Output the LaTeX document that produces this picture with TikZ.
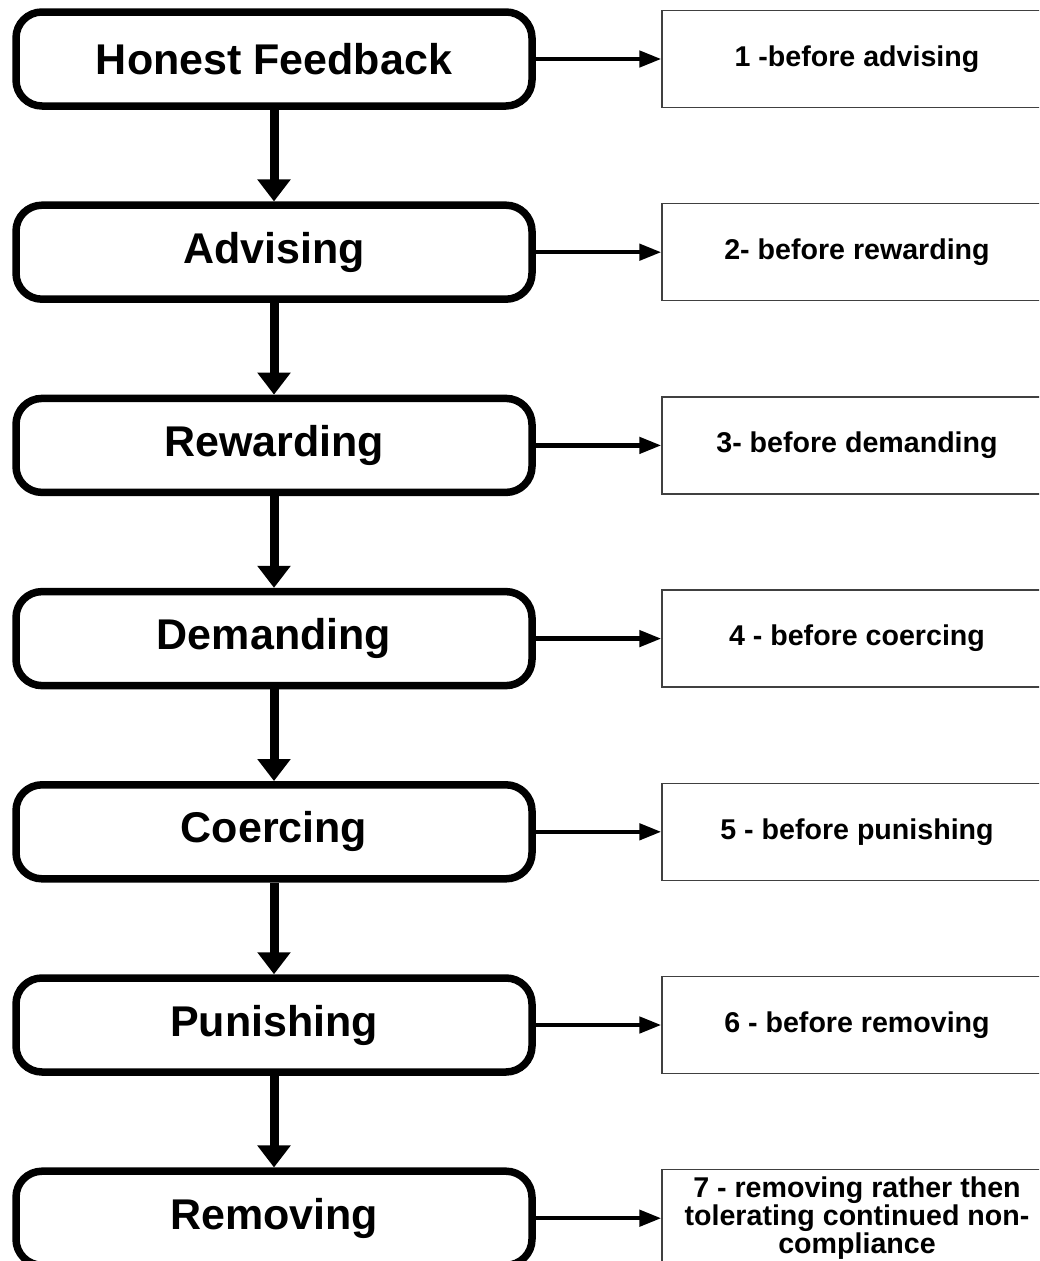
\documentclass[tikz,border=0pt]{standalone}
\usepackage{fontspec}
\setmainfont{Liberation Sans}
\usetikzlibrary{arrows.meta}
\begin{document}
\begin{tikzpicture}[x=1pt,y=-1pt,
 stage/.style={draw=black, line width=7.5pt, rounded corners=26pt, minimum width=516pt, minimum height=94pt, inner sep=0pt, font=\fontsize{43}{50}\selectfont\bfseries},
 note/.style={draw=black!75, line width=1.3pt, minimum width=390pt, minimum height=97pt, inner sep=0pt, align=center, font=\fontsize{28.6}{25}\selectfont\bfseries},
 down/.style={line width=9pt, -{Triangle[length=22pt,width=32pt]}},
 side/.style={line width=4.5pt, -{Triangle[length=22pt,width=16pt]}}]
\clip (0,0) rectangle (1039,1261);
\fill[white] (0,0) rectangle (1039,1261);
\node[stage] (s1) at (274,59) {Honest Feedback};
\node[stage] (s2) at (274,252.2) {Advising};
\node[stage] (s3) at (274,445.4) {Rewarding};
\node[stage] (s4) at (274,638.6) {Demanding};
\node[stage] (s5) at (274,831.8) {Coercing};
\node[stage] (s6) at (274,1025) {Punishing};
\node[stage] (s7) at (274,1218.2) {Removing};
\node[note] (n1) at (857,59) {1 -before advising};
\node[note] (n2) at (857,252.2) {2- before rewarding};
\node[note] (n3) at (857,445.4) {3- before demanding};
\node[note] (n4) at (857,638.6) {4 - before coercing};
\node[note] (n5) at (857,831.8) {5 - before punishing};
\node[note] (n6) at (857,1025) {6 - before removing};
\node[note] (n7) at (857,1218.2) {7 - removing rather then\\tolerating continued non-\\compliance};
\foreach \a/\b in {s1/s2,s2/s3,s3/s4,s4/s5,s5/s6,s6/s7}
  \draw[down] (\a.south) -- (\b.north);
\foreach \i in {1,...,7}
  \draw[side] (s\i.east) -- (n\i.west);
\end{tikzpicture}
\end{document}
